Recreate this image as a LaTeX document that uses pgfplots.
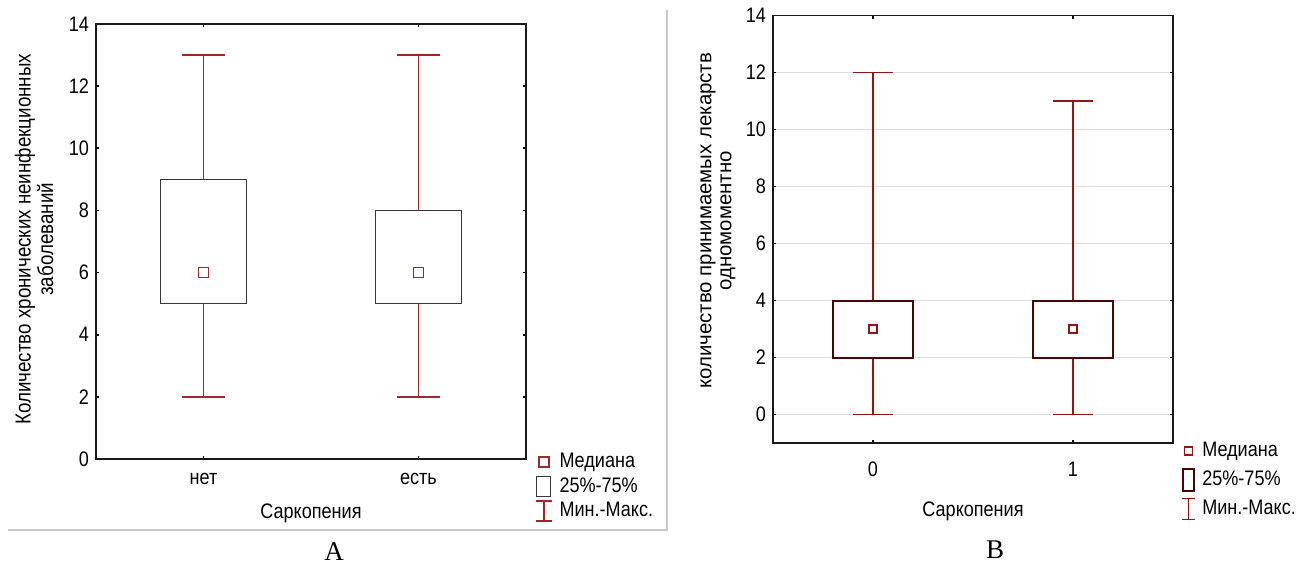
\documentclass[border=0pt]{standalone}
\usepackage{fontspec}
\setmainfont{Liberation Sans}[FakeStretch=0.86]
\newfontfamily\plainsans{Liberation Sans}
\newfontfamily\capfont{Liberation Serif}
\usepackage{pgfplots}
\usepgfplotslibrary{statistics}
\pgfplotsset{compat=1.18}

\definecolor{whiskA}{RGB}{160,40,40}
\definecolor{boxA}{RGB}{55,55,55}
\definecolor{whiskB}{RGB}{150,20,20}
\definecolor{boxB}{RGB}{75,5,5}
\definecolor{gridB}{RGB}{222,222,222}
\definecolor{frameA}{RGB}{200,200,200}

\pgfplotsset{
  panel/.style={
    scale only axis, anchor=south west,
    xmin=-0.5, xmax=1.5, xtick={0,1},
    tick align=inside, major tick length=1.6pt,
    axis line style={line width=0.8pt, black!90},
    every tick/.style={black, line width=0.8pt},
    /pgf/number format/assume math mode=true,
    tick label style={font=\fontsize{10.5}{12}\selectfont},
    label style={font=\fontsize{10.5}{10}\selectfont, align=center},
    legend style={font=\fontsize{10.5}{12}\selectfont, draw=none, fill=none,
      inner sep=0pt, outer sep=0pt, at={(1,0)}, anchor=north west,
      cells={anchor=west}, nodes={inner xsep=3.5pt, inner ysep=0pt}},
    boxplot/draw direction=y,
    boxplot/draw/median/.code={},
    clip=false,
  },
}

\begin{document}
\begin{tikzpicture}[x=0.5pt,y=0.5pt]
\path[use as bounding box] (0,0) rectangle (1308,565);

% panel A frame
\draw[frameA, line width=0.75pt] (8,35) -- (667,35) -- (667,555);

% ---------- Panel A ----------
\begin{axis}[panel,
  at={(48pt,53pt)}, width=215pt, height=217.5pt,
  ymin=0, ymax=14, ytick={0,2,...,14},
  xticklabels={нет,есть},
  xticklabel style={yshift=-3.5pt},
  xlabel={Саркопения},
  xlabel style={at={(axis description cs:0.5,0)}, anchor=center, yshift=-27.25pt},
  ylabel={Количество хронических неинфекционных\\заболеваний},
  ylabel style={at={(axis description cs:-0.144,0.505)}, anchor=center,
    font=\fontsize{10.9}{10}\selectfont},
  boxplot/every box/.style={draw=boxA, line width=0.6pt},
  boxplot/every whisker/.style={draw=whiskA, line width=0.75pt},
  legend style={xshift=4.5pt, yshift=4.5pt, row sep=0.25pt},
]
\addplot[whiskA, boxplot prepared={draw position=0, lower whisker=2, lower quartile=5,
  median=6, upper quartile=9, upper whisker=13, box extend=0.4, whisker extend=0.2},
  forget plot] coordinates {};
\addplot[whiskA, boxplot prepared={draw position=1, lower whisker=2, lower quartile=5,
  median=6, upper quartile=8, upper whisker=13, box extend=0.4, whisker extend=0.2},
  forget plot] coordinates {};
\addplot[only marks, mark=square, mark size=2.5pt, draw=whiskA, fill=none,
  mark options={line width=0.75pt, draw=whiskA, fill=none},
  legend image code/.code={\path[draw=none, fill=none] (0pt,-6pt) rectangle (8pt,6pt);
    \draw plot coordinates {(4pt,0pt)};}]
  coordinates {(0,6) (1,6)};
\addlegendentry{Медиана}
\addlegendimage{legend image code/.code={\path[draw=none, fill=none] (0pt,-6pt) rectangle (8pt,6pt);
  \draw[boxA, line width=0.6pt] (0.25pt,-5pt) rectangle (7.5pt,5pt);}}
\addlegendentry{25\%-75\%}
\addlegendimage{legend image code/.code={\path[draw=none, fill=none] (0pt,-6pt) rectangle (8pt,6pt);
  \draw[whiskA, line width=0.75pt] (0pt,-5pt) -- (8pt,-5pt) (4pt,-5pt) -- (4pt,5pt)
  (0pt,5pt) -- (8pt,5pt);}}
\addlegendentry{Мин.-Макс.}
\end{axis}

% ---------- Panel B ----------
\begin{axis}[panel,
  at={(386.5pt,61pt)}, width=200pt, height=213.65pt,
  ymin=-1, ymax=14, ytick={0,2,...,14},
  ymajorgrids, grid style={gridB, line width=0.75pt},
  xticklabel style={yshift=-6pt},
  xlabel={Саркопения},
  xlabel style={at={(axis description cs:0.5,0)}, anchor=center, yshift=-34.25pt},
  ylabel={количество принимаемых лекарств\\одномоментно},
  ylabel style={at={(axis description cs:-0.1375,0.52)}, anchor=center,
    font=\plainsans\fontsize{10.2}{10}\selectfont},
  boxplot/every box/.style={draw=boxB, line width=1pt},
  boxplot/every whisker/.style={draw=whiskB, line width=0.65pt},
  legend style={xshift=4pt, yshift=3.1pt, row sep=0.25pt},
]
\addplot[whiskB, boxplot prepared={draw position=0, lower whisker=0, lower quartile=2,
  median=3, upper quartile=4, upper whisker=12, box extend=0.4, whisker extend=0.2},
  forget plot] coordinates {};
\addplot[whiskB, boxplot prepared={draw position=1, lower whisker=0, lower quartile=2,
  median=3, upper quartile=4, upper whisker=11, box extend=0.4, whisker extend=0.2},
  forget plot] coordinates {};
\addplot[only marks, mark=square, mark size=2pt, draw=whiskB, fill=none,
  mark options={line width=0.6pt, draw=whiskB, fill=none},
  legend image code/.code={\path[draw=none, fill=none] (0pt,-7.125pt) rectangle (6.5pt,7.125pt);
    \draw plot coordinates {(3.25pt,0pt)};}]
  coordinates {(0,3) (1,3)};
\addlegendentry{Медиана}
\addlegendimage{legend image code/.code={\path[draw=none, fill=none] (0pt,-7.125pt) rectangle (6.5pt,7.125pt);
  \draw[boxB, line width=1pt] (0.5pt,-5.5pt) rectangle (6pt,5.5pt);}}
\addlegendentry{25\%-75\%}
\addlegendimage{legend image code/.code={\path[draw=none, fill=none] (0pt,-7.125pt) rectangle (6.5pt,7.125pt);
  \draw[whiskB, line width=0.65pt] (0pt,-5.25pt) -- (6.5pt,-5.25pt) (3.25pt,-5.25pt) -- (3.25pt,5.25pt)
  (0pt,5.25pt) -- (6.5pt,5.25pt);}}
\addlegendentry{Мин.-Макс.}
\end{axis}

% panel captions
\node[font=\capfont\fontsize{13.5}{14}\selectfont] at (334,13) {A};
\node[font=\capfont\fontsize{13.5}{14}\selectfont] at (995,15) {B};
\end{tikzpicture}
\end{document}
